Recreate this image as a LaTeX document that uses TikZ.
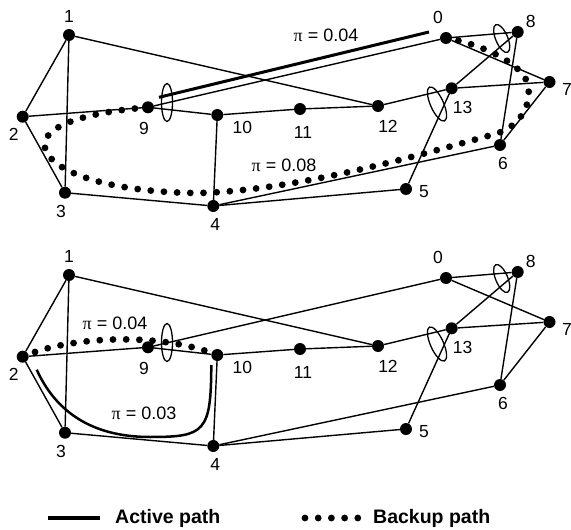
\documentclass[tikz,border=0pt]{standalone}
\usepackage{fontspec}
\setmainfont{Liberation Sans}
\newfontfamily\pifont{Liberation Serif}
\usetikzlibrary{shapes.geometric,calc}
\tikzset{
  vertex/.style={circle,fill=black,inner sep=0pt,minimum size=12pt},
  vlabel/.style={inner sep=0pt,font=\fontsize{17.5}{19}\selectfont},
  pilabel/.style={inner sep=0pt,font=\fontsize{18}{20}\selectfont},
  legendtext/.style={inner sep=0pt,anchor=west,font=\fontsize{19.5}{21}\selectfont\bfseries},
  link/.style={line width=1.4pt},
  srlg/.style={draw,ellipse,line width=1.3pt,inner sep=0pt},
  active/.style={line width=3pt},
  backup/.style={line width=6.8pt,line cap=round,dash pattern=on 0pt off 13.2pt}
}
\newcommand{\pival}[1]{{\pifont π} = #1}

\begin{document}
\begin{tikzpicture}[x=1pt,y=-1pt]
  \useasboundingbox (0,0) rectangle (571,530);
  % the same network twice, top (t) and bottom (b)
  \foreach \g/\dy in {t/0,b/240}{
    \foreach \i/\x/\y/\lx/\ly in {0/446/38/-8/-21, 1/69/35/0/-19, 2/22.7/116.7/-9/18,
        3/65/192.7/-4/19, 4/213.3/206/2/18, 5/406/189/18/3, 6/500/145/3/18,
        7/549.5/82/17.5/7, 8/517.7/32/13/-11, 9/148/107.3/-4/21, 10/217.3/115/25/12,
        11/300/109/3/23, 12/378/106/10/20, 13/451.7/88.3/11/19}{
      \node[vertex] (\g\i) at (\x,\y+\dy) {};
      \node[vlabel] (\g l\i) at ([shift={(\lx,\ly)}]\g\i.center) {\i};
    }
    \foreach \u/\v in {1/2, 1/3, 1/12, 2/3, 2/9, 9/10, 10/11, 11/12, 12/13, 10/4,
        3/4, 4/5, 4/6, 5/13, 13/7, 13/8, 0/8, 0/7, 8/6, 6/7, 9/0}
      \draw[link] (\g\u) -- (\g\v);
    % shared risk groups
    \node[srlg,minimum width=11pt,minimum height=38pt] (\g srlg9) at (167,102.5+\dy) {};
    \node[srlg,minimum width=12pt,minimum height=30pt,rotate=23] (\g srlg8) at (501.7,38.5+\dy) {};
    \node[srlg,minimum width=13pt,minimum height=37pt,rotate=24] (\g srlg13) at (437,104+\dy) {};
  }

  % top: active and backup
  \draw[active] ([shift={(11,-10)}]t9.center) -- ([shift={(-17,-6)}]t0.center);
  \draw[backup] (t9.center) .. controls (90,112) and (40,125) .. (45,148)
    .. controls (52,175) and (120,193) .. (200,193)
    .. controls (300,190) and (420,155) .. (495,134)
    .. controls (520,127) and (532,105) .. (528,85)
    .. controls (524,65) and (485,45) .. (t0.center);
  \node[pilabel] (tpi1) at (326,35) {\pival{0.04}};
  \node[pilabel] (tpi2) at (284,165) {\pival{0.08}};

  % bottom: active and backup
  \draw[active,line width=2.5pt] ([shift={(14,13)}]b2.center)
    .. controls (55,410) and (90,437) .. (150,437)
    .. controls (205,437) and (211,432) .. ([shift={(-6,10)}]b10.center);
  \draw[backup] (b2.center) .. controls (70,336) and (160,332) .. (b10.center);
  \node[pilabel] (bpi1) at (115,323) {\pival{0.04}};
  \node[pilabel] (bpi2) at (144,413) {\pival{0.03}};

  % legend
  \node[legendtext] (actlbl) at (115,518) {Active path};
  \node[legendtext] (bkplbl) at (373,518) {Backup path};
  \coordinate (actstart) at (48,518);
  \coordinate (bkpstart) at (305,518);
  \draw[active,line width=4pt] (actstart) -- ([xshift=-15pt]actlbl.west);
  \draw[backup] (bkpstart) -- ([xshift=-14.5pt]bkplbl.west);
\end{tikzpicture}
\end{document}
